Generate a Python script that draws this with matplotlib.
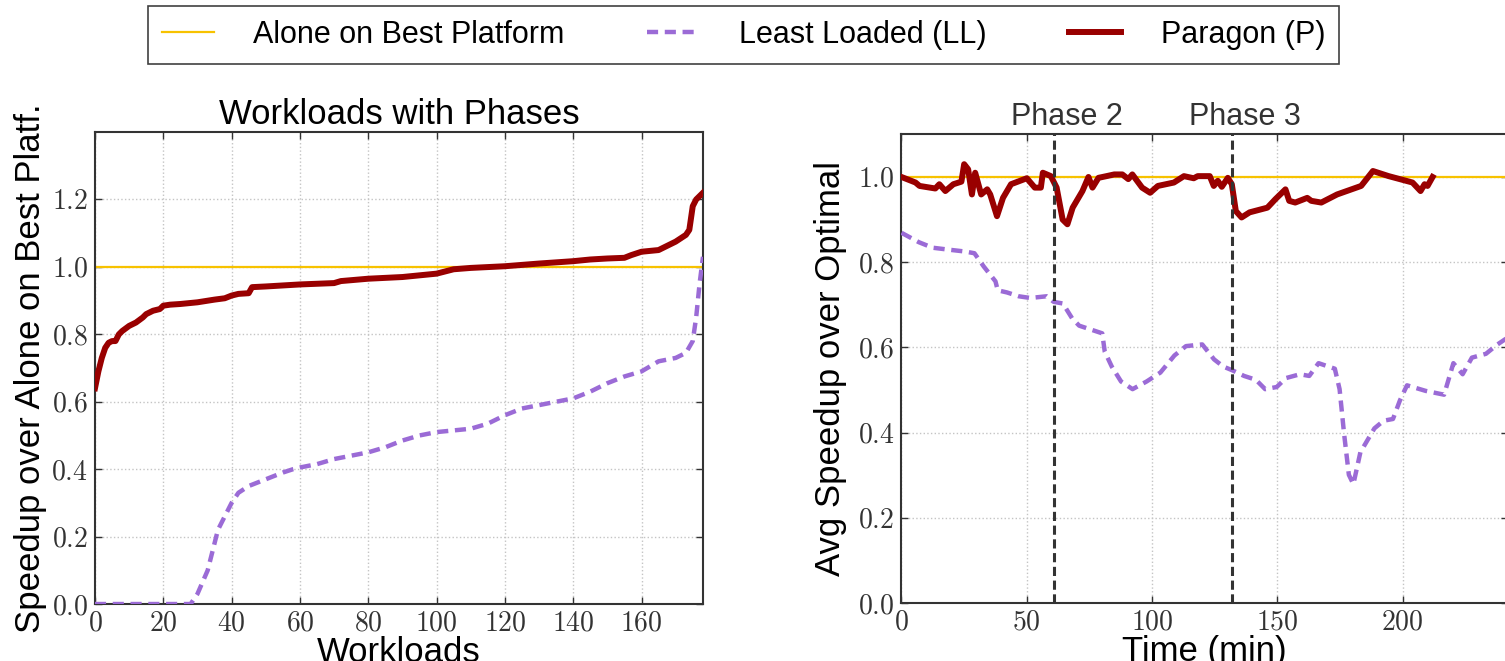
#!/usr/bin/env python3
"""
Paragon vs Least Loaded scheduling - speedup over alone on best platform
Left: sorted per-workload speedup; right: speedup over time with phases
"""

import matplotlib
matplotlib.use('Agg')
import matplotlib.pyplot as plt
from matplotlib.ticker import FuncFormatter
import numpy as np

# ---- data ----
# left panel: workloads sorted by speedup
wl_paragon_x = [0, 1, 2, 3, 4, 5, 6, 7, 8, 10, 12, 14, 15, 17, 19, 20, 22, 25,
                30, 35, 38, 40, 42, 45, 46, 50, 55, 60, 70, 72, 80, 90, 100,
                105, 110, 120, 130, 140, 145, 150, 155, 157, 160, 165, 170,
                173, 174, 175, 176, 178]
wl_paragon_y = [0.64, 0.69, 0.73, 0.76, 0.775, 0.78, 0.78, 0.80, 0.81, 0.825,
                0.835, 0.85, 0.86, 0.87, 0.875, 0.885, 0.888, 0.89, 0.895,
                0.903, 0.907, 0.915, 0.92, 0.922, 0.94, 0.942, 0.945, 0.948,
                0.952, 0.958, 0.965, 0.97, 0.98, 0.993, 0.997, 1.002, 1.01,
                1.017, 1.022, 1.025, 1.027, 1.035, 1.045, 1.05, 1.075, 1.095,
                1.11, 1.18, 1.20, 1.22]
wl_ll_x = [0, 10, 20, 27, 28, 30, 33, 35, 36, 38, 40, 42, 45, 50, 55, 58, 60,
           65, 70, 75, 80, 85, 90, 95, 100, 105, 110, 115, 120, 125, 130, 135,
           140, 145, 150, 155, 160, 165, 170, 173, 175, 176, 177, 178]
wl_ll_y = [0.0, 0.0, 0.0, 0.0, 0.0, 0.03, 0.10, 0.18, 0.22, 0.26, 0.30, 0.33,
           0.35, 0.37, 0.39, 0.40, 0.405, 0.415, 0.43, 0.44, 0.45, 0.465,
           0.485, 0.50, 0.51, 0.515, 0.52, 0.535, 0.56, 0.58, 0.59, 0.60,
           0.61, 0.63, 0.655, 0.675, 0.69, 0.72, 0.73, 0.745, 0.78, 0.85,
           0.95, 1.03]

# right panel: speedup over time
t_paragon = [0, 5.6, 7.2, 13.5, 15.1, 17.5, 20.7, 23.9, 25, 26.6, 28.1, 29.4,
             31.8, 34.2, 35.4, 38.1, 40.5, 43.7, 50, 53.2, 55.6, 56.4, 59.6,
             61.9, 64.3, 66.2, 68.3, 72.2, 74.6, 76.2, 78.6, 81.8, 84.9, 88.1,
             90.5, 92.1, 96, 99.2, 102.3, 108.7, 112.7, 116.6, 118.2, 123,
             124.6, 126.2, 127.8, 130.2, 131.8, 133.4, 135.7, 138.9, 146,
             149.2, 153.2, 154.7, 157.1, 161.9, 163.5, 167.5, 173.8, 183.4,
             188.1, 194.4, 203.9, 207.1, 208.7, 209.9, 211.9]
s_paragon = [1.0, 0.987, 0.979, 0.973, 0.983, 0.967, 0.983, 0.989, 1.03,
             1.018, 0.959, 1.01, 0.959, 0.971, 0.959, 0.908, 0.951, 0.983,
             0.997, 0.975, 0.975, 1.01, 1.002, 0.975, 0.90, 0.889, 0.928,
             0.967, 1.0, 0.975, 0.998, 1.002, 1.006, 1.006, 0.995, 1.006,
             0.975, 0.963, 0.979, 0.987, 1.002, 0.997, 1.002, 1.002, 0.979,
             0.991, 0.977, 0.998, 0.983, 0.92, 0.905, 0.917, 0.928, 0.948,
             0.971, 0.944, 0.94, 0.951, 0.944, 0.94, 0.959, 0.979, 1.014,
             1.002, 0.987, 0.967, 0.983, 0.979, 1.0]
t_ll = [0, 6.9, 12.4, 18, 25.4, 29.1, 32.8, 37.5, 38.4, 42.1, 46.8, 51.4,
        57.9, 60.7, 64.4, 68.1, 70.9, 75.5, 80.1, 81.1, 83.9, 87.6, 92.2,
        97.8, 103.3, 108.9, 113.5, 120, 124.7, 128.4, 132.1, 136.7, 141.4,
        145.1, 149.7, 153.4, 159, 162.7, 166.4, 172.9, 174.8, 176.6, 178.5,
        180.3, 183.1, 188.7, 192.4, 196.1, 198.9, 201.7, 209.1, 216.5, 220.2,
        223.9, 227.6, 233.2, 237.8, 242.1]
s_ll = [0.869, 0.847, 0.834, 0.83, 0.825, 0.821, 0.79, 0.755, 0.734, 0.729,
        0.72, 0.716, 0.72, 0.707, 0.703, 0.668, 0.651, 0.642, 0.633, 0.59,
        0.555, 0.52, 0.502, 0.52, 0.541, 0.581, 0.603, 0.607, 0.572, 0.555,
        0.546, 0.533, 0.524, 0.502, 0.507, 0.528, 0.537, 0.533, 0.563, 0.55,
        0.502, 0.397, 0.301, 0.279, 0.354, 0.41, 0.428, 0.432, 0.476, 0.511,
        0.498, 0.489, 0.563, 0.537, 0.576, 0.585, 0.607, 0.624]

alone_speedup = 1.0
phase_starts = [61, 132]
phase_labels = ['Phase 2', 'Phase 3']

# ---- styles ----
colors = {
    'alone': '#F7C200',
    'll': '#9B6BD6',
    'paragon': '#990000',
    'phase': '#333333',
    'spine': '#333333',
    'grid': '#c4c4c4',
}

plt.rcParams['font.family'] = ['Liberation Sans', 'DejaVu Sans']
plt.rcParams['mathtext.fontset'] = 'cm'

tick_fmt = FuncFormatter(lambda v, pos: r'$%.1f$' % v)
int_fmt = FuncFormatter(lambda v, pos: r'$%d$' % v)


def style_axes(ax):
    for sp in ax.spines.values():
        sp.set_color(colors['spine'])
        sp.set_linewidth(1.5)
    ax.tick_params(direction='in', length=5, width=1, top=True, right=True,
                   labelsize=20, pad=5, colors=colors['spine'])
    ax.tick_params(labelcolor='#333333')
    ax.grid(True, linestyle=':', color=colors['grid'], linewidth=1)
    ax.set_axisbelow(True)


fig = plt.figure(figsize=(15.05, 6.61), dpi=100)

# left panel
ax1 = fig.add_axes([0.0631, 0.0862, 0.404, 0.714])
ax1.axhline(alone_speedup, color=colors['alone'], lw=1.6, zorder=2,
            label='Alone on Best Platform')
ax1.plot(wl_ll_x, wl_ll_y, color=colors['ll'], lw=3.2, dashes=(2.5, 1.5),
         zorder=3, label='Least Loaded (LL)')
ax1.plot(wl_paragon_x, wl_paragon_y, color=colors['paragon'], lw=4.3,
         zorder=4, label='Paragon (P)')
ax1.set_xlim(0, 178)
ax1.set_ylim(0, 1.4)
ax1.set_xticks(np.arange(0, 161, 20))
ax1.set_yticks(np.arange(0, 1.21, 0.2))
ax1.xaxis.set_major_formatter(int_fmt)
ax1.yaxis.set_major_formatter(tick_fmt)
style_axes(ax1)
ax1.set_title('Workloads with Phases', fontsize=25, pad=6)
ax1.set_xlabel('Workloads', fontsize=25, labelpad=-1)
ax1.set_ylabel('Speedup over Alone on Best Platf.', fontsize=25, labelpad=3)

# right panel
ax2 = fig.add_axes([0.599, 0.0877, 0.403, 0.709])
ax2.axhline(alone_speedup, color=colors['alone'], lw=1.6, zorder=2)
ax2.plot(t_ll, s_ll, color=colors['ll'], lw=3.2, dashes=(2.5, 1.5), zorder=3)
ax2.plot(t_paragon, s_paragon, color=colors['paragon'], lw=4.3, zorder=4)
for x0, lab in zip(phase_starts, phase_labels):
    ax2.axvline(x0, color=colors['phase'], lw=2.2, dashes=(3, 1.5), zorder=5)
    ax2.text(x0 + 5, 1.14, lab, fontsize=22, ha='center', va='center',
             color=colors['phase'])
ax2.set_xlim(0, 242)
ax2.set_ylim(0, 1.1)
ax2.set_xticks(np.arange(0, 201, 50))
ax2.set_yticks(np.arange(0, 1.01, 0.2))
ax2.xaxis.set_major_formatter(int_fmt)
ax2.yaxis.set_major_formatter(tick_fmt)
style_axes(ax2)
ax2.set_xlabel('Time (min)', fontsize=25, labelpad=-1)
ax2.set_ylabel('Avg Speedup over Optimal', fontsize=25, labelpad=8)

# shared legend on top
handles, labels = ax1.get_legend_handles_labels()
leg = fig.legend(handles, labels, loc='center', bbox_to_anchor=(0.494, 0.947),
                 ncol=3, fontsize=22, frameon=True, fancybox=False,
                 handlelength=1.7, handletextpad=1.3, columnspacing=2.7,
                 borderpad=0.45)
leg.get_frame().set_edgecolor('#111111')
leg.get_frame().set_linewidth(1.2)

fig.savefig('out.png', dpi=100, facecolor='white')
